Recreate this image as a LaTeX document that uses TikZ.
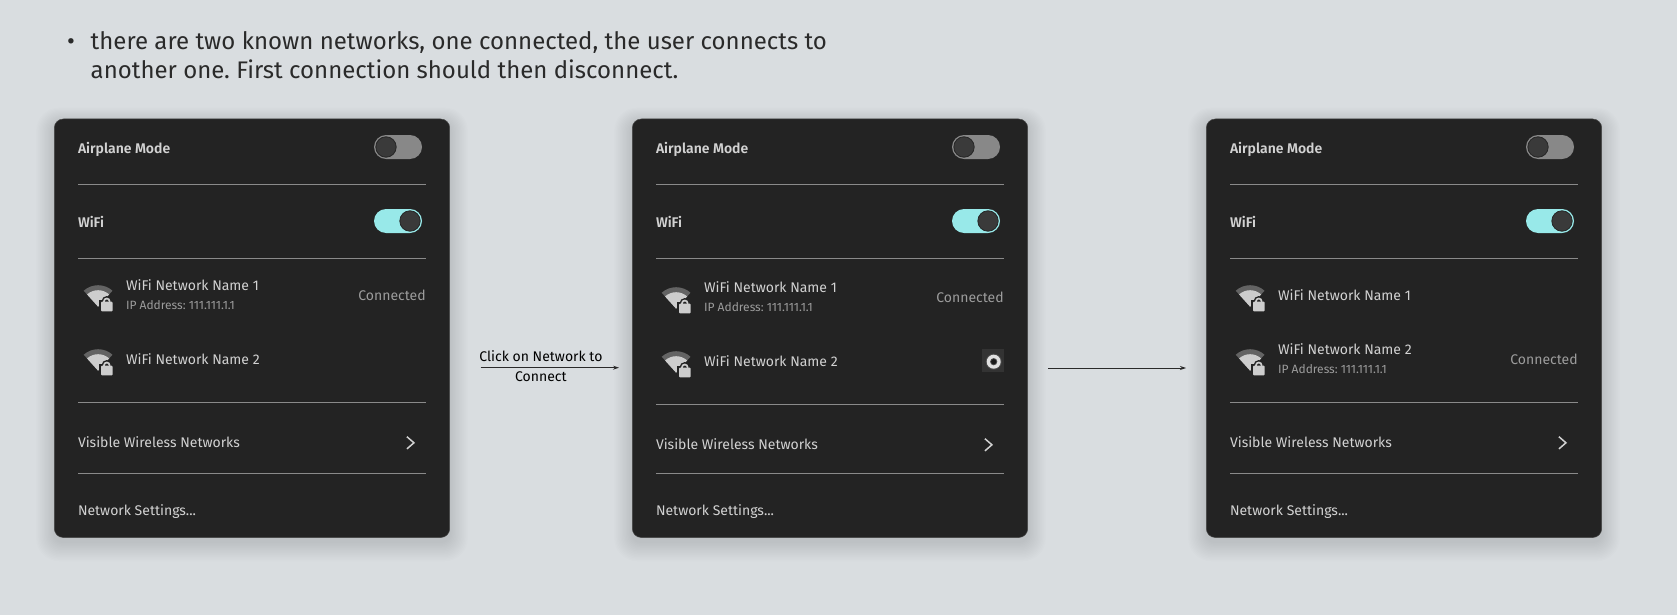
\documentclass[tikz,border=0pt]{standalone}
\usepackage{fontspec}
\setmainfont[BoldFont={Fira Sans SemiBold}]{Fira Sans}
\definecolor{bgc}{HTML}{D9DDE0}
\definecolor{cardc}{HTML}{232323}
\definecolor{cardedge}{HTML}{454545}
\definecolor{rulec}{HTML}{8A8A8A}
\definecolor{txtc}{HTML}{D2D2D2}
\definecolor{dimc}{HTML}{9C9C9C}
\definecolor{offc}{HTML}{888888}
\definecolor{onc}{HTML}{98E9E9}
\definecolor{knobc}{HTML}{3A3A3A}
\definecolor{radioc}{HTML}{333333}
\definecolor{wifilo}{HTML}{636363}
\definecolor{wifihi}{HTML}{CDCDCD}
\definecolor{inkc}{HTML}{2A2A2A}
\usetikzlibrary{arrows.meta}
\tikzset{
  x=1pt,y=1pt,
  every node/.style={inner sep=0pt,outer sep=0pt},
  rowhead/.style={anchor=base west,font=\fontsize{14}{17}\selectfont\bfseries\frenchspacing,text=txtc},
  rowtext/.style={anchor=base west,font=\fontsize{14}{17}\selectfont\frenchspacing,text=txtc},
  subtext/.style={anchor=base west,font=\fontsize{12}{14}\selectfont\frenchspacing,text=dimc},
  statetext/.style={anchor=base east,font=\fontsize{14}{17}\selectfont,text=dimc},
  headtext/.style={anchor=base west,font=\fontsize{24}{29}\selectfont\frenchspacing,text=inkc},
  steptext/.style={anchor=base,font=\fontsize{14}{17}\selectfont,text=black},
  divider/.style={draw=rulec,line width=1pt},
  flow/.style={draw=inkc,line width=0.9pt,-{Stealth[length=6pt,width=4pt]}},
}
% x, y of toggle left/top, track colour, knob centre offset
\newcommand\switchbox[4]{%
  \fill[#3] (#1+12,#2) arc[start angle=90,end angle=270,radius=12] -- ++(24,0) arc[start angle=-90,end angle=90,radius=12] -- cycle;
  \fill[knobc,draw=black!85,line width=0.8pt] (#1+#4,#2-12) circle[radius=10.2];
}
% apex x,y
\newcommand\wifiicon[2]{%
  \begin{scope}[shift={(#1,#2)}]
    \fill[wifilo] (0,0) -- (132:21.5) arc[start angle=132,end angle=48,radius=21.5] -- cycle;
    \fill[wifihi] (0,0) -- (132:16.5) arc[start angle=132,end angle=48,radius=16.5] -- cycle;
    \fill[cardc] (1.3,6.3) rectangle (16,-6);
    \fill[cardc] (8.7,5.5) circle[radius=5.2];
    \draw[wifihi,line width=1.7pt] (5.9,4.5) -- (5.9,5.4) arc[start angle=180,end angle=0,radius=2.8] -- (11.5,4.5);
    \fill[wifihi,rounded corners=0.8pt] (3,5) rectangle (14.4,-4.6);
  \end{scope}%
}
\newcommand\chevronmark[2]{%
  \draw[txtc,line width=1.5pt] (#1-7,#2+6.1) -- (#1,#2) -- (#1-7,#2-6.1);
}
% name, card x, dy of middle rows
\newcommand\panelbase[3]{%
  \begin{scope}[shift={(#2,0)}]
    \foreach \i in {1,...,14}{
      \fill[black,opacity=0.009,rounded corners=9+\i]
        (-\i*1.3,-119+\i*1.1-4) rectangle (395.4+\i*1.3,-537.7-\i*1.4-4);
    }
    \node[draw=cardedge,fill=cardc,line width=0.5pt,rounded corners=9pt,minimum width=395.4pt,minimum height=418.5pt,anchor=north west] (#1card) at (0,-119) {};
    \node[rowhead] (#1air) at (23.7,-153) {Airplane Mode};
    \node[rowhead] (#1wifi) at (23.7,-227.3) {WiFi};
    \switchbox{319.7}{-135}{offc}{12}
    \switchbox{319.7}{-209}{onc}{36}
    \draw[divider] (23.7,-184.3) -- (371.4,-184.3);
    \draw[divider] (23.7,-258.3) -- (371.4,-258.3);
    \draw[divider] (23.7,-402.3-#3) -- (371.4,-402.3-#3);
    \draw[divider] (23.7,-473.3) -- (371.4,-473.3);
    \node[rowtext] (#1vis) at (23.7,-447.3-#3) {Visible Wireless Networks};
    \chevronmark{359.6}{-442.8-#3}
    \node[rowtext] (#1set) at (23.7,-515) {Network Settings...};
    \wifiicon{43.8}{-306.7-#3}
    \wifiicon{43.8}{-370.7-#3}
  \end{scope}%
}
\begin{document}
\begin{tikzpicture}
\useasboundingbox (0,0) rectangle (1677,-615);
\fill[bgc] (0,0) rectangle (1677,-615);
\node[headtext] (bul) at (67,-50) {•};
\node[headtext] (h1) at (90.7,-50) {there are two known networks, one connected, the user connects to};
\node[headtext] (h2) at (90.7,-79) {another one. First connection should then disconnect.};

\panelbase{a}{54.3}{0}
\begin{scope}[shift={(54.3,0)}]
  \node[rowtext] (an1) at (71.7,-290) {WiFi Network Name 1};
  \node[subtext] (aip) at (71.7,-309) {IP Address: 111.111.1.1};
  \node[statetext] (ast) at (371.4,-300) {Connected};
  \node[rowtext] (an2) at (71.7,-364.3) {WiFi Network Name 2};
\end{scope}

\panelbase{b}{632.3}{2}
\begin{scope}[shift={(632.3,0)}]
  \node[rowtext] (bn1) at (71.7,-292) {WiFi Network Name 1};
  \node[subtext] (bip) at (71.7,-311) {IP Address: 111.111.1.1};
  \node[statetext] (bst) at (371.4,-302) {Connected};
  \node[rowtext] (bn2) at (71.7,-366.3) {WiFi Network Name 2};
  \fill[radioc] (350,-349) rectangle (371.7,-372.3);
  \fill[black!40!radioc!80!white] (361.4,-361.7) circle[radius=8];
  \fill[black!12] (361.4,-361.7) circle[radius=7];
  \fill[black!70] (361.4,-361.7) circle[radius=3.6];
  \fill[black!90] (361.4,-361.7) circle[radius=2.6];
\end{scope}

\panelbase{c}{1206.3}{0}
\begin{scope}[shift={(1206.3,0)}]
  \node[rowtext] (cn1) at (71.7,-300) {WiFi Network Name 1};
  \node[rowtext] (cn2) at (71.7,-354.3) {WiFi Network Name 2};
  \node[subtext] (cip) at (71.7,-373.3) {IP Address: 111.111.1.1};
  \node[statetext] (cst) at (371.4,-364) {Connected};
\end{scope}

\coordinate (f1s) at (480.7,-367.7);
\coordinate (f1e) at (619,-367.7);
\coordinate (f2s) at (1048,-368);
\coordinate (f2e) at (1186,-368);
\draw[flow] (f1s) -- (f1e);
\draw[flow] (f2s) -- (f2e);
\node[steptext] (l1) at (540.9,-361.7) {Click on Network to};
\node[steptext] (l2) at (540.9,-381.7) {Connect};
\end{tikzpicture}
\end{document}
